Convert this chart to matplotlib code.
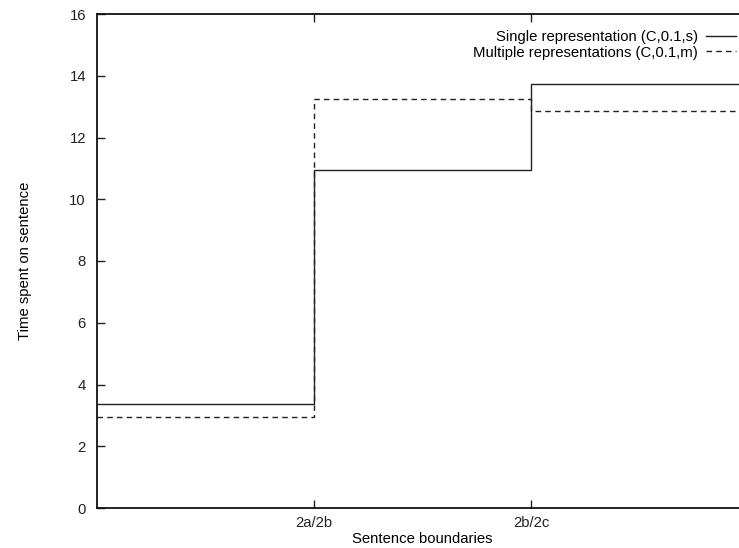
import matplotlib
matplotlib.use("Agg")
import matplotlib.pyplot as plt

plt.rcParams['font.family'] = ['Liberation Sans', 'DejaVu Sans']

boundaries = ["2a/2b", "2b/2c"]
edges = [0, 1, 2, 3]
single = [3.38, 10.95, 13.72]
multiple = [2.95, 13.24, 12.86]
yticks = [0, 2, 4, 6, 8, 10, 12, 14, 16]

FS = 10.7
W, H = 739, 548
fig = plt.figure(figsize=(W / 100, H / 100), dpi=100)
x0, x1 = 97, 748
y0, y1 = 508, 14
ax = fig.add_axes([x0 / W, 1 - y0 / H, (x1 - x0) / W, (y0 - y1) / H])

ax.stairs(single, edges, baseline=None, color='#222222', lw=1.0,
          label='Single representation (C,0.1,s)')
ax.stairs(multiple, edges, baseline=None, color='#222222', lw=1.0,
          linestyle=(0, (4, 3)), label='Multiple representations (C,0.1,m)')

ax.set_xlim(0, 3)
ax.set_ylim(0, 16)
ax.set_xticks([1, 2])
ax.set_xticklabels(boundaries)
ax.set_yticks(yticks)
ax.tick_params(direction='in', length=6, width=1, top=True, right=True,
               labelsize=FS, colors='#222222')
ax.tick_params(axis='y', pad=8)
ax.tick_params(axis='x', pad=6)
for s in ax.spines.values():
    s.set_linewidth(1.3)
    s.set_color('#111111')

ax.set_xlabel('Sentence boundaries', fontsize=FS, labelpad=1)
ax.set_ylabel('Time spent on sentence', fontsize=FS, labelpad=27)

leg = ax.legend(loc='upper right',
                bbox_to_anchor=((738.5 - x0) / (x1 - x0), 0.974),
                frameon=False, fontsize=FS, markerfirst=False,
                handlelength=2.0, handletextpad=0.55, labelspacing=0.12,
                borderpad=0.1, borderaxespad=0.1)

fig.savefig('out.png', dpi=100)
